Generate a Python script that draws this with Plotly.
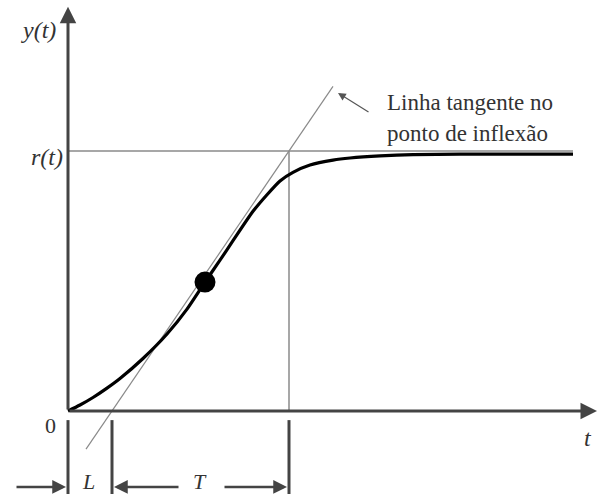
import plotly.graph_objects as go

# Step response (time in arbitrary units, y normalised to r(t)=1)
t_curve = [0, 0.6, 1.25, 1.95, 2.6, 3.75, 4.95, 5.95, 6.85, 7.6, 8.25, 9.25, 9.95,
           10.6, 11.25, 12.1, 13.25, 14.1, 15.6, 17.25, 19.6, 22.6, 25.25]
y_curve = [0, 0.023, 0.052, 0.088, 0.125, 0.202, 0.296, 0.392, 0.496, 0.58, 0.655,
           0.768, 0.832, 0.885, 0.918, 0.946, 0.965, 0.973, 0.981, 0.986, 0.988, 0.988, 0.988]

inflection_t = [6.85]
inflection_y = [0.496]

L = 2.2          # dead time
T = 8.85         # time constant
r_level = 1.0
t_end = 25.25

tan_t = [0.9, 13.25]
tan_y = [(v - L) / T for v in tan_t]

FONT = "Liberation Serif"
AX = "#444444"
THIN = "#8a8a8a"

fig = go.Figure()

# thin reference lines
fig.add_trace(go.Scatter(x=[0, t_end], y=[r_level, r_level], mode="lines",
                         line=dict(color=THIN, width=1.5), hoverinfo="skip"))
fig.add_trace(go.Scatter(x=[L + T, L + T], y=[0, r_level], mode="lines",
                         line=dict(color=THIN, width=1.5), hoverinfo="skip"))
fig.add_trace(go.Scatter(x=tan_t, y=tan_y, mode="lines",
                         line=dict(color=THIN, width=1.2), hoverinfo="skip"))

# response curve
fig.add_trace(go.Scatter(x=t_curve, y=y_curve, mode="lines",
                         line=dict(color="black", width=3.2, shape="spline", smoothing=0.6),
                         hoverinfo="skip"))
fig.add_trace(go.Scatter(x=inflection_t, y=inflection_y, mode="markers",
                         marker=dict(color="black", size=21), hoverinfo="skip"))

# tick marks below the time axis
tick_bottom = -0.32
tick_top = -0.035
for xv, w in [(0, 3), (L, 3), (L + T, 3)]:
    fig.add_shape(type="line", x0=xv, x1=xv, y0=tick_top, y1=tick_bottom,
                  line=dict(color=AX, width=w))

def arrow(x0, y0, x1, y1, width=3, head=2, size=1.0, color=AX):
    fig.add_annotation(x=x1, y=y1, ax=x0, ay=y0, xref="x", yref="y", axref="x", ayref="y",
                       text="", showarrow=True, arrowhead=head, arrowsize=size,
                       arrowwidth=width, arrowcolor=color)

# axes
arrow(0, 0, 0, 1.555, width=3, head=2, size=1.1)
arrow(0, 0, 26.45, 0, width=3, head=2, size=1.1)

# dimension arrows
ya = -0.292
arrow(-2.65, ya, -0.1, ya, width=2.5, head=2, size=1.1)
arrow(5.6, ya, L + 0.1, ya, width=2.5, head=2, size=1.1)
arrow(7.75, ya, L + T - 0.1, ya, width=2.5, head=2, size=1.1)

# callout arrow
arrow(15.1, 1.146, 13.5, 1.223, width=1.2, head=2, size=1.3, color="#555555")

def label(x, y, txt, size=22, italic=True, anchor="center"):
    fig.add_annotation(x=x, y=y, xref="x", yref="y", text=txt, showarrow=False,
                       xanchor=anchor, yanchor="middle",
                       font=dict(family=FONT, size=size, color="#333333",
                                 style="italic" if italic else "normal"))

label(-1.5, 1.465, "y(t)", 24)
label(-1.05, 0.977, "r(t)", 24)
label(-0.9, -0.054, "0", 22, italic=False)
label(26.0, -0.104, "t", 24)
label(1.0, -0.272, "L", 22)
label(6.6, -0.272, "T", 22)
label(15.85, 1.185, "Linha tangente no", 23, italic=False, anchor="left")
label(15.85, 1.069, "ponto de inflexão", 23, italic=False, anchor="left")

fig.update_layout(
    width=598, height=494,
    margin=dict(l=0, r=0, t=0, b=0),
    paper_bgcolor="white", plot_bgcolor="white",
    showlegend=False,
    xaxis=dict(range=[-3.4, 26.5], visible=False, fixedrange=True),
    yaxis=dict(range=[-0.3192, 1.5808], visible=False, fixedrange=True),
)

fig.write_html("out.html")
